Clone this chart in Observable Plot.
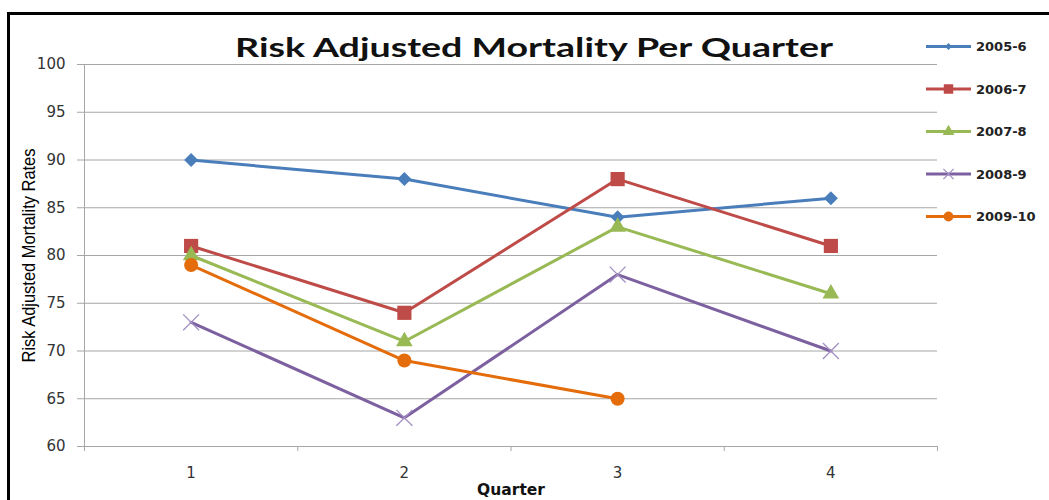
<!DOCTYPE html>
<html>
<head>
<meta charset="utf-8">
<script src="https://cdn.jsdelivr.net/npm/d3@7"></script>
<script src="https://cdn.jsdelivr.net/npm/@observablehq/plot@0.6"></script>
<style>
  body { margin: 0; background: #fff; }
  #wrap { position: relative; width: 1049px; height: 500px; overflow: hidden; background: #fff; }
  #frame { position: absolute; left: 7px; top: 12px; width: 1060px; height: 520px; border-left: 3px solid #000; border-top: 3px solid #000; box-sizing: border-box; }
  #chart { position: absolute; left: 0; top: 0; }
  #overlay { position: absolute; left: 0; top: 0; pointer-events: none; }
</style>
</head>
<body>
<div id="wrap">
  <div id="frame"></div>
  <div id="chart"></div>
  <svg id="overlay" width="1049" height="500"></svg>
</div>
<script>
// ---- data ----
const quarters = [1, 2, 3, 4];
const seriesNames = ["2005-6", "2006-7", "2007-8", "2008-9", "2009-10"];
const values2005_6 = [90, 88, 84, 86];
const values2006_7 = [81, 74, 88, 81];
const values2007_8 = [80, 71, 83, 76];
const values2008_9 = [73, 63, 78, 70];
const values2009_10 = [79, 69, 65];
const yTickValues = [60, 65, 70, 75, 80, 85, 90, 95, 100];
const xTickLabels = ["1", "2", "3", "4"];
const chartTitle = "Risk Adjusted Mortality Per Quarter";
const yTitle = "Risk Adjusted Mortality Rates";
const xTitle = "Quarter";

const seriesValues = [values2005_6, values2006_7, values2007_8, values2008_9, values2009_10];
const rows = [];
seriesNames.forEach((s, i) => seriesValues[i].forEach((v, j) => rows.push({series: s, quarter: quarters[j], value: v})));

// ---- styles ----
const colors = ["#4A7EBB", "#BE4B48", "#98B954", "#7D60A0", "#E46C0A"];
const markerStyles = [
  {symbol: "diamond2", r: 6.3, fill: colors[0], stroke: "none"},
  {symbol: "square", r: 8, fill: colors[1], stroke: "none"},
  {symbol: "triangle", r: 6.2, fill: colors[2], stroke: "none"},
  {symbol: "times", r: 7.3, fill: "none", stroke: "#A390C4", strokeWidth: 1.3},
  {symbol: "circle", r: 7, fill: colors[4], stroke: "none"}
];
const gridColor = "#A6A6A6";

const marks = [
  Plot.gridY(yTickValues.slice(1), {stroke: gridColor, strokeOpacity: 1}),
  Plot.ruleX([0.5], {stroke: gridColor}),
  Plot.ruleY([60], {stroke: gridColor}),
  Plot.axisY({ticks: yTickValues, tickSize: 7, tickPadding: 12, stroke: gridColor, fill: "#333", label: null, fontSize: 15}),
  Plot.axisX({ticks: quarters, tickSize: 0, tickPadding: 21, fill: "#333", label: null, fontSize: 15, tickFormat: (d) => xTickLabels[quarters.indexOf(d)]}),
  Plot.axisX({ticks: [0.5, 1.5, 2.5, 3.5, 4.5], tickSize: 5, stroke: gridColor, tickFormat: () => "", label: null})
];
seriesNames.forEach((s, i) => {
  const data = rows.filter(d => d.series === s);
  marks.push(Plot.line(data, {x: "quarter", y: "value", stroke: colors[i], strokeWidth: 3}));
  marks.push(Plot.dot(data, {x: "quarter", y: "value", ...markerStyles[i]}));
});
marks.push(Plot.text([yTitle], {frameAnchor: "left", textAnchor: "middle", dx: -55, rotate: -90, fontSize: 17.5, fill: "#000", className: "ytitle"}));
marks.push(Plot.text([xTitle], {frameAnchor: "bottom", textAnchor: "middle", dy: 48.5, lineAnchor: "bottom", fontSize: 15.5, fontWeight: "bold", fill: "#111"}));

const chart = Plot.plot({
  width: 1049,
  height: 500,
  marginLeft: 84,
  marginRight: 112,
  marginTop: 64,
  marginBottom: 54,
  style: {fontFamily: "DejaVu Sans", fontSize: "15px", background: "transparent", overflow: "visible"},
  x: {type: "linear", domain: [0.5, 4.5]},
  y: {type: "linear", domain: [60, 100]},
  marks
});
document.getElementById("chart").appendChild(chart);

d3.select(chart).selectAll(".ytitle text")
  .attr("textLength", 214).attr("lengthAdjust", "spacingAndGlyphs")
  .style("font-family", "'Liberation Sans Narrow', 'Liberation Sans', sans-serif");

// ---- title & legend overlay ----
const ov = d3.select("#overlay");
ov.append("text")
  .attr("x", 534).attr("y", 57)
  .attr("text-anchor", "middle")
  .attr("textLength", 598).attr("lengthAdjust", "spacingAndGlyphs")
  .style("font-family", "Lato, 'Open Sans', sans-serif")
  .style("font-weight", "bold").style("font-size", "27px").style("fill", "#111")
  .text(chartTitle);

const legendY = [46.5, 89, 131.5, 174, 216.5];
const legendSymbols = [d3.symbolDiamond2, d3.symbolSquare, d3.symbolTriangle, d3.symbolTimes, d3.symbolCircle];
const legendSizes = [30, 90, 60, 70, 75];
seriesNames.forEach((s, i) => {
  const g = ov.append("g").attr("transform", `translate(0,${legendY[i]})`);
  g.append("line").attr("x1", 926).attr("x2", 971).attr("y1", 0).attr("y2", 0)
    .attr("stroke", colors[i]).attr("stroke-width", 3);
  const ms = markerStyles[i];
  g.append("path").attr("transform", "translate(948.5,0)")
    .attr("d", d3.symbol(legendSymbols[i], legendSizes[i])())
    .attr("fill", ms.fill).attr("stroke", ms.stroke).attr("stroke-width", ms.strokeWidth || 0);
  g.append("text").attr("x", 976).attr("y", 4.8)
    .style("font-family", "'DejaVu Sans', sans-serif").style("font-weight", "bold")
    .style("font-size", "13px").style("fill", "#222")
    .text(s);
});
</script>
</body>
</html>
